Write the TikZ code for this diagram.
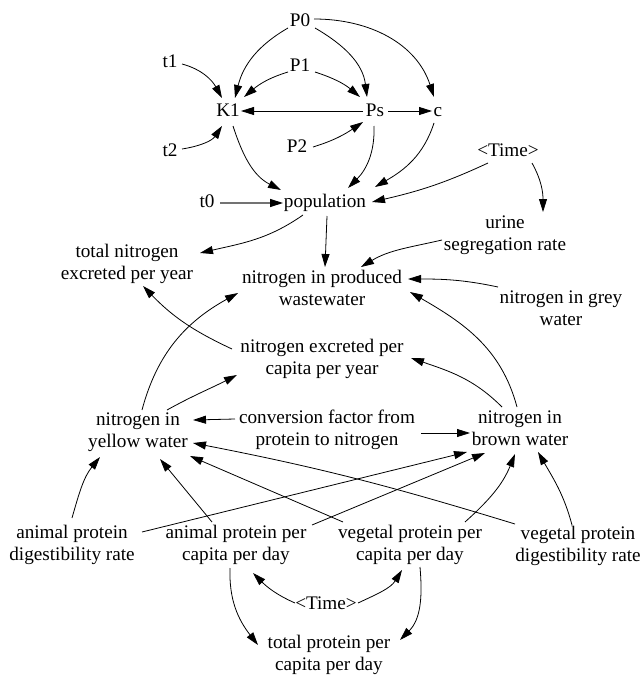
\documentclass[tikz,border=0pt]{standalone}
\usepackage{fontspec}
\setmainfont{Liberation Serif}
\usetikzlibrary{arrows.meta}
\newcommand\nlx{\\\strut}
\begin{document}
\begin{tikzpicture}[x=1pt,y=1pt,
  every node/.style={font=\fontsize{19.2}{22}\selectfont, inner sep=0pt, align=center, execute at begin node=\strut},
  arr/.style={line width=0.8pt, -{Triangle[length=13pt,width=8pt]}},
  greyarr/.style={draw=black!55, line width=1.3pt, -{Triangle[length=13pt,width=8pt,color=black]}}
]
\useasboundingbox (0,0) rectangle (641,-677);

% nodes
\node (P0) at (300,-22) {P0};
\node (P1) at (300,-67) {P1};
\node (K1) at (228,-112) {K1};
\node (Ps) at (375,-112) {Ps};
\node (c) at (438,-112) {c};
\node (t1) at (170,-63) {t1};
\node (t2) at (170,-152) {t2};
\node (P2) at (297,-148) {P2};
\node (timeA) at (508,-152) {<Time>};
\node (t0) at (207,-203) {t0};
\node (pop) at (325,-203) {population};
\node (urine) at (505,-236) {urine\nlx segregation rate};
\node (totN) at (127,-265) {total nitrogen\nlx excreted per year};
\node (prod) at (322,-291) {nitrogen in produced\nlx wastewater};
\node (grey) at (561,-311) {nitrogen in grey\nlx water};
\node (excr) at (322,-360) {nitrogen excreted per\nlx capita per year};
\node (yellow) at (138,-433) {nitrogen in\nlx yellow water};
\node (conv) at (327,-431) {conversion factor from\nlx protein to nitrogen};
\node (brown) at (520,-431) {nitrogen in\nlx brown water};
\node (animDig) at (72,-546) {animal protein\nlx digestibility rate};
\node (animPC) at (236,-546) {animal protein per\nlx capita per day};
\node (vegPC) at (410,-546) {vegetal protein per\nlx capita per day};
\node (vegDig) at (578,-547) {vegetal protein\nlx digestibility rate};
\node (timeB) at (326,-605) {<Time>};
\node (totP) at (329,-656) {total protein per\nlx capita per day};

% connectors
\draw[arr] ([shift={(-12,-6)}]P0.center) to[out=210,in=76] ([shift={(7,14)}]K1.center);
\draw[arr] ([shift={(15,-6)}]P0.center) to[out=-30,in=97] ([shift={(-8,15)}]Ps.center);
\draw[arr] ([shift={(14,3)}]P0.center) to[out=0,in=108] ([shift={(-4,15)}]c.center);
\draw[arr] ([shift={(12,-1)}]t1.center) to[out=-15,in=119] ([shift={(-6,14)}]K1.center);
\draw[arr] ([shift={(12,3)}]t2.center) to[out=9,in=236] ([shift={(-6,-14)}]K1.center);
\draw[arr] ([shift={(-12,-5)}]P1.center) to[out=197,in=40] ([shift={(16,15)}]K1.center);
\draw[arr] ([shift={(15,-5)}]P1.center) to[out=-18,in=140] ([shift={(-15,15)}]Ps.center);
\draw[arr] ([shift={(-12,1)}]Ps.center) -- ([shift={(13,1)}]K1.center);
\draw[arr] ([shift={(13,1)}]Ps.center) -- ([shift={(-6,1)}]c.center);
\draw[arr] ([shift={(16,1)}]P2.center) to[out=17,in=214] ([shift={(-12,-10)}]Ps.center);
\draw[arr] ([shift={(5,-14)}]K1.center) to[out=-72,in=153] ([shift={(-44,13)}]pop.center);
\draw[arr] ([shift={(-1,-14)}]Ps.center) to[out=-88,in=45] ([shift={(23,15)}]pop.center);
\draw[arr] ([shift={(-4,-11)}]c.center) to[out=-108,in=30] ([shift={(50,16)}]pop.center);
\draw[arr] ([shift={(-20,-11)}]timeA.center) to[out=205,in=13] ([shift={(47,1)}]pop.center);
\draw[arr] ([shift={(24,-11)}]timeA.center) to[out=-61,in=90] ([shift={(38,24)}]urine.center);
\draw[greyarr] ([shift={(13,0)}]t0.center) -- ([shift={(-42,0)}]pop.center);
\draw[arr] ([shift={(-22,-12)}]pop.center) to[out=215,in=13] ([shift={(73,12)}]totN.center);
\draw[arr] ([shift={(2,-13)}]pop.center) -- ([shift={(3,24)}]prod.center);
\draw[arr] ([shift={(-63,-4)}]urine.center) to[out=193,in=31] ([shift={(39,24)}]prod.center);
\draw[arr] ([shift={(-63,24)}]grey.center) to[out=168,in=0] ([shift={(86,12)}]prod.center);
\draw[arr] ([shift={(-3,24)}]brown.center) to[out=105,in=-30] ([shift={(88,-1)}]prod.center);
\draw[arr] ([shift={(4,23)}]yellow.center) to[out=75,in=209] ([shift={(-84,-2)}]prod.center);
\draw[arr] ([shift={(-90,11)}]excr.center) to[out=155,in=-46] ([shift={(16,-21)}]totN.center);
\draw[arr] ([shift={(29,23)}]yellow.center) to[out=29,in=207] ([shift={(-85,-15)}]excr.center);
\draw[arr] ([shift={(-18,24)}]brown.center) to[out=135,in=-19] ([shift={(89,2)}]excr.center);
\draw[arr] ([shift={(-92,12)}]conv.center) -- ([shift={(55,13)}]yellow.center);
\draw[arr] ([shift={(94,-2)}]conv.center) -- ([shift={(-50,-2)}]brown.center);
\draw[arr] ([shift={(0,28)}]animDig.center) to[out=74,in=231] ([shift={(-38,-24)}]yellow.center);
\draw[arr] ([shift={(-24,24)}]animPC.center) -- ([shift={(22,-26)}]yellow.center);
\draw[arr] ([shift={(-67,24)}]vegPC.center) -- ([shift={(52,-23)}]yellow.center);
\draw[arr] ([shift={(-63,23)}]vegDig.center) to[out=163,in=-11] ([shift={(55,-10)}]yellow.center);
\draw[arr] ([shift={(70,14)}]animDig.center) -- ([shift={(-53,-21)}]brown.center);
\draw[arr] ([shift={(76,21)}]animPC.center) -- ([shift={(-35,-22)}]brown.center);
\draw[arr] ([shift={(55,24)}]vegPC.center) to[out=42,in=248] ([shift={(-5,-23)}]brown.center);
\draw[arr] ([shift={(-6,22)}]vegDig.center) to[out=105,in=300] ([shift={(18,-21)}]brown.center);
\draw[arr] ([shift={(-6,-22)}]animPC.center) to[out=-92,in=128] ([shift={(-71,11)}]totP.center);
\draw[arr] ([shift={(-31,2)}]timeB.center) to[out=156,in=-45] ([shift={(17,-27)}]animPC.center);
\draw[arr] ([shift={(32,2)}]timeB.center) to[out=25,in=238] ([shift={(-8,-24)}]vegPC.center);
\draw[arr] ([shift={(10,-21)}]vegPC.center) to[out=-85,in=45] ([shift={(71,16)}]totP.center);
\end{tikzpicture}
\end{document}
